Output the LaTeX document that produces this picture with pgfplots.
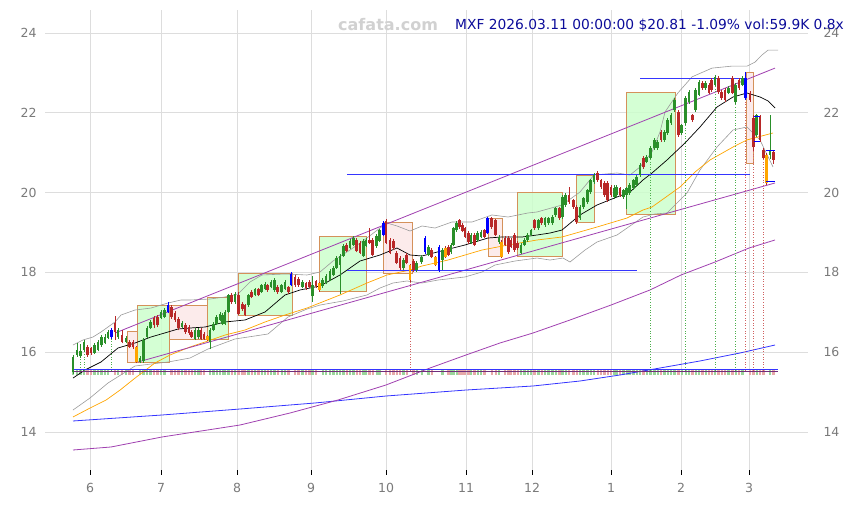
\documentclass[border=0pt]{standalone}
\usepackage{pgfplots}
\pgfplotsset{compat=1.18}
\usepackage{pgfplotstable}
\usepackage{fontspec}
\setmainfont{DejaVu Sans}
\definecolor{cgreen}{HTML}{2A8F2A}
\definecolor{cred}{HTML}{B82828}
\definecolor{cblue}{HTML}{0000FF}
\definecolor{corange}{HTML}{FFA500}
\definecolor{boxedge}{HTML}{D4915A}
\definecolor{boxgreen}{HTML}{CCFFCC}
\definecolor{boxpink}{HTML}{FCE8E8}
\definecolor{gridc}{HTML}{DDDDDD}
\definecolor{tickc}{HTML}{7A7A7A}
\definecolor{mapurple}{HTML}{A040B0}
\definecolor{mablue}{HTML}{3535FF}
\definecolor{titlec}{HTML}{0C0C9A}
\definecolor{bandc}{HTML}{9A9A9A}
\definecolor{volg}{HTML}{9AD49A}
\definecolor{volr}{HTML}{E6A8A8}
\definecolor{dotg}{HTML}{4CAF4C}
\definecolor{dotr}{HTML}{D06060}

\pgfplotstableread{
x o h l c
73 15.50 15.93 15.45 15.88
77 15.93 16.23 15.88 16.06
80.5 15.90 16.20 15.86 16.03
84 16.06 16.30 16.00 16.26
94.5 15.98 16.22 15.95 16.18
98 16.06 16.30 16.02 16.26
101.5 16.18 16.42 16.14 16.38
105 16.23 16.45 16.20 16.38
108 16.36 16.56 16.32 16.51
118 16.38 16.60 16.34 16.56
126 16.26 16.40 16.22 16.36
140 15.76 15.90 15.72 15.85
143.5 15.78 16.35 15.74 16.31
147 16.38 16.65 16.35 16.61
150.5 16.61 16.80 16.58 16.76
161 16.86 17.05 16.82 17.01
164.5 16.88 17.10 16.85 17.06
182 16.63 16.78 16.60 16.73
195 16.33 16.60 16.30 16.56
198.3 16.38 16.60 16.34 16.56
210 16.26 16.60 16.08 16.56
213.3 16.56 16.75 16.52 16.71
216.7 16.71 16.92 16.68 16.88
220 16.81 17.00 16.78 16.96
222.7 16.71 16.97 16.68 16.93
225 16.71 17.05 16.68 17.01
228.3 17.01 17.47 16.98 17.43
235 17.26 17.50 17.22 17.46
248.3 17.18 17.47 17.14 17.43
255 17.43 17.62 17.40 17.58
261.7 17.51 17.72 17.48 17.68
265 17.58 17.75 17.55 17.71
271 17.63 17.80 17.60 17.76
274.3 17.56 17.85 17.52 17.81
281.7 17.51 17.72 17.48 17.68
285 17.58 17.80 17.55 17.76
302.3 17.63 17.80 17.60 17.76
312.3 17.41 17.90 17.27 17.68
322.7 17.66 17.85 17.62 17.81
326 17.73 17.95 17.70 17.91
330 17.81 18.08 17.78 18.04
333.3 17.94 18.15 17.90 18.11
336.7 18.11 18.40 18.08 18.36
340 18.19 18.45 17.47 18.41
343.3 18.41 18.70 18.38 18.66
350 18.61 18.83 18.58 18.79
353.3 18.69 18.90 18.66 18.86
363.3 18.41 18.83 18.38 18.79
366 18.66 18.85 18.63 18.81
376.7 18.66 18.95 18.62 18.91
379.3 18.79 19.10 18.75 19.06
403.3 18.11 18.35 18.07 18.31
416.7 18.06 18.28 18.02 18.24
421.7 18.26 18.43 18.22 18.39
428.3 18.44 18.68 18.40 18.64
442.3 18.31 18.60 18.06 18.56
451 18.51 18.73 18.47 18.69
453.3 18.69 19.15 18.65 19.11
456.7 19.06 19.28 19.02 19.24
471 18.74 18.98 18.70 18.94
477.7 18.81 19.03 18.77 18.99
481 18.89 19.06 18.85 19.02
499 18.76 18.93 18.72 18.89
521 18.49 18.73 18.45 18.69
524.3 18.69 18.85 18.65 18.81
527.7 18.81 18.98 18.77 18.94
531 18.94 19.10 18.90 19.06
538.3 19.11 19.35 19.07 19.31
545 19.19 19.40 19.15 19.36
548.3 19.24 19.40 19.20 19.36
552.3 19.24 19.43 19.20 19.39
555.7 19.44 19.65 19.40 19.61
562.3 19.39 19.93 19.35 19.89
565.7 19.69 19.98 19.65 19.94
580 19.36 19.68 19.32 19.64
583.3 19.64 19.90 19.60 19.86
587.3 19.76 20.10 19.72 20.06
590.7 20.01 20.35 19.97 20.31
594 20.26 20.48 20.22 20.44
614.3 19.89 20.20 19.85 20.11
616.7 19.94 20.18 19.90 20.14
623.3 19.89 20.10 19.85 20.06
626.7 19.94 20.15 19.60 20.11
629.3 19.99 20.23 19.95 20.19
633.3 20.11 20.35 20.07 20.31
636.7 20.19 20.43 20.15 20.39
640 20.44 20.73 20.40 20.69
646.7 20.77 20.93 20.73 20.89
650.5 20.87 21.16 20.83 21.12
654.3 21.12 21.36 21.08 21.32
657.7 21.12 21.31 21.08 21.27
664.3 21.32 21.56 21.28 21.52
667.7 21.49 21.86 21.45 21.82
671 21.74 21.99 21.70 21.95
674.3 22.07 22.36 22.03 22.32
681.7 21.49 21.73 21.45 21.69
685.7 21.74 22.41 21.70 22.37
689 22.27 22.56 22.23 22.52
695.7 22.07 22.61 22.03 22.57
699 22.45 22.81 22.41 22.77
705.7 22.62 22.79 22.58 22.75
715 22.70 22.94 22.66 22.90
728.3 22.50 22.66 22.46 22.62
735.7 22.27 22.74 22.23 22.70
742.3 22.70 22.91 22.66 22.87
756.7 21.44 21.98 21.40 21.94
770 20.94 21.94 20.85 21.07
}\greentab

\pgfplotstableread{
x o h l c
87.5 16.13 16.18 15.88 15.93
91 16.10 16.14 15.94 15.98
115 16.73 16.90 16.30 16.51
122 16.43 16.55 16.22 16.26
129.5 16.26 16.30 16.10 16.13
133 16.25 16.30 16.08 16.12
154 16.86 16.90 16.60 16.68
157.5 16.88 16.92 16.62 16.68
171.5 17.13 17.18 16.84 16.88
175 16.98 17.02 16.76 16.81
178.5 16.83 16.87 16.55 16.61
185.5 16.68 16.72 16.46 16.51
189 16.63 16.67 16.44 16.48
191.7 16.51 16.55 16.35 16.38
201 16.56 16.60 16.30 16.33
204 16.46 16.50 16.30 16.33
231.7 17.43 17.48 17.22 17.26
238.3 17.43 17.50 16.92 16.96
242.3 17.21 17.25 17.04 17.08
245 17.18 17.22 16.90 16.93
251.7 17.51 17.55 17.35 17.38
258.3 17.58 17.62 17.40 17.43
267.7 17.68 17.72 17.52 17.56
277.7 17.63 17.68 17.47 17.51
288.3 17.63 17.67 17.47 17.51
295 17.89 17.93 17.64 17.68
298.3 17.84 17.88 17.64 17.68
306 17.73 17.77 17.57 17.61
309.3 17.76 17.80 17.60 17.63
316 17.78 17.82 17.62 17.66
346.7 18.69 18.73 18.50 18.54
356.7 18.81 18.86 18.50 18.54
360 18.74 18.78 18.45 18.49
369.3 18.81 19.11 18.70 18.74
372.7 18.81 18.86 18.40 18.44
386 19.29 19.33 18.70 18.74
390 18.81 18.85 18.45 18.49
393.3 18.79 18.83 18.57 18.61
396.7 18.49 18.53 18.20 18.24
400 18.36 18.40 18.07 18.11
406.7 18.44 18.48 18.20 18.24
413.3 18.29 18.33 18.02 18.06
431.7 18.56 18.60 18.35 18.39
448.3 18.64 18.68 18.40 18.44
459.3 19.31 19.35 19.10 19.14
462.3 19.19 19.23 19.00 19.04
465 19.11 19.15 18.85 18.89
468.3 18.99 19.03 18.72 18.76
474.3 18.94 18.98 18.65 18.69
484.3 19.06 19.10 18.85 18.89
491.7 19.36 19.40 19.10 19.14
495.7 19.31 19.35 18.90 18.94
505 18.86 18.90 18.65 18.69
508.3 18.86 18.90 18.47 18.51
511 18.81 18.85 18.60 18.64
514.3 18.94 18.98 18.52 18.56
517.7 18.74 18.78 18.57 18.61
534.3 19.31 19.35 19.07 19.11
541.7 19.36 19.40 19.20 19.24
559.3 19.61 19.65 19.32 19.36
569 19.94 20.15 19.72 19.76
573.3 19.81 19.85 19.60 19.64
576.7 19.64 19.68 19.22 19.26
597.7 20.49 20.53 20.27 20.31
601 20.31 20.35 20.10 20.14
604.3 20.24 20.28 19.90 19.94
607.7 20.24 20.28 19.77 19.81
611 20.14 20.18 19.90 19.94
620 20.11 20.15 19.90 19.94
643.3 20.87 20.91 20.60 20.64
661 21.52 21.56 21.28 21.32
678.3 22.02 22.06 21.40 21.44
692.3 21.94 21.98 21.78 21.82
702.3 22.75 22.79 22.58 22.62
709 22.70 22.74 22.46 22.50
711.7 22.82 22.86 22.53 22.57
718.3 22.87 22.91 22.48 22.52
721.7 22.52 22.56 22.33 22.37
725 22.57 22.61 22.28 22.32
732.3 22.87 22.91 22.46 22.50
739 22.82 22.86 22.58 22.62
750 22.50 22.55 22.28 22.32
753.3 21.87 21.95 21.04 21.14
760 21.90 21.94 21.28 21.32
763.3 21.07 21.11 20.83 20.87
773.3 21.02 21.06 20.72 20.82
}\redtab

\pgfplotstableread{
x o h l c
111.5 16.38 16.60 16.34 16.56
168 17.00 17.25 16.97 17.18
291 17.68 18.00 17.65 17.96
383.3 18.94 19.28 18.90 19.24
425 18.51 18.90 18.47 18.86
439 18.64 18.68 18.02 18.06
487.7 18.99 19.40 18.95 19.36
745.7 22.37 23.02 22.32 22.87
}\bluetab

\pgfplotstableread{
x o h l c
136.5 16.13 16.16 15.72 15.75
207.3 16.40 16.43 16.28 16.31
319.3 17.73 17.77 17.52 17.56
410 18.19 18.22 17.77 17.81
435.7 18.39 18.42 18.15 18.19
445.7 18.61 18.65 18.35 18.39
501.7 18.76 18.80 18.35 18.39
766.7 20.94 20.98 20.20 20.24
}\orangetab

\pgfplotsset{
  candlewick/.style={draw=none, mark=none, forget plot,
    error bars/.cd, y dir=plus, y explicit, error mark=none,
    error bar style={draw=#1, line width=0.8pt}},
  candlebody/.style={draw=none, mark=none, forget plot,
    error bars/.cd, y dir=plus, y explicit, error mark=none,
    error bar style={draw=#1, line width=2.9pt}},
  volbar/.style={draw=none, mark=none, forget plot,
    error bars/.cd, y dir=plus, y explicit, error mark=none,
    error bar style={draw=#1, line width=2.4pt}},
  baseaxis/.style={
    at={(45pt,35pt)}, anchor=south west,
    width=763pt, height=460pt, scale only axis,
    xmin=45, xmax=808, ymin=13.0476, ymax=24.5764,
    axis line style={draw=none},
    ytick={14,16,18,20,22,24},
    ytick style={draw=none},
    tick label style={font=\fontsize{12.5}{14}\selectfont, text=tickc},
    /pgf/number format/assume math mode=true,
  },
}

\begin{document}
\begin{tikzpicture}
\path[use as bounding box] (0pt,0pt) rectangle (853pt,505pt);
\begin{axis}[baseaxis,
  xtick={90,161,237,311,386,466,532,611,681,749},
  xticklabels={6,7,8,9,10,11,12,1,2,3},
  xtick pos=bottom, ytick pos=left,
  tick align=outside, major tick length=5pt,
  xtick style={draw=black, line width=0.7pt},
  xticklabel style={yshift=-5pt},
  grid=major, major grid style={gridc, line width=0.8pt},
  clip=false,
]
% boxes
\addplot[draw=boxedge, fill=boxpink, fill opacity=0.85, line width=1pt] coordinates {(127,15.73) (137,15.73) (137,16.51) (127,16.51)} -- cycle;
\addplot[draw=boxedge, fill=boxgreen, fill opacity=0.85, line width=1pt] coordinates {(137,15.73) (169,15.73) (169,17.16) (137,17.16)} -- cycle;
\addplot[draw=boxedge, fill=boxpink, fill opacity=0.85, line width=1pt] coordinates {(169,16.31) (207,16.31) (207,17.16) (169,17.16)} -- cycle;
\addplot[draw=boxedge, fill=boxgreen, fill opacity=0.85, line width=1pt] coordinates {(207,16.31) (228,16.31) (228,17.38) (207,17.38)} -- cycle;
\addplot[draw=boxedge, fill=boxgreen, fill opacity=0.85, line width=1pt] coordinates {(238,16.93) (292,16.93) (292,17.98) (238,17.98)} -- cycle;
\addplot[draw=boxedge, fill=boxgreen, fill opacity=0.85, line width=1pt] coordinates {(319,17.53) (366,17.53) (366,18.91) (319,18.91)} -- cycle;
\addplot[draw=boxedge, fill=boxpink, fill opacity=0.85, line width=1pt] coordinates {(383,17.96) (412,17.96) (412,19.24) (383,19.24)} -- cycle;
\addplot[draw=boxedge, fill=boxpink, fill opacity=0.85, line width=1pt] coordinates {(488,18.39) (502,18.39) (502,19.34) (488,19.34)} -- cycle;
\addplot[draw=boxedge, fill=boxgreen, fill opacity=0.85, line width=1pt] coordinates {(517,18.39) (562,18.39) (562,19.99) (517,19.99)} -- cycle;
\addplot[draw=boxedge, fill=boxgreen, fill opacity=0.85, line width=1pt] coordinates {(576,19.26) (594,19.26) (594,20.42) (576,20.42)} -- cycle;
\addplot[draw=boxedge, fill=boxgreen, fill opacity=0.85, line width=1pt] coordinates {(626,19.46) (675,19.46) (675,22.52) (626,22.52)} -- cycle;
\addplot[draw=boxedge, fill=boxpink, fill opacity=0.85, line width=1pt] coordinates {(746,20.72) (753,20.72) (753,23.02) (746,23.02)} -- cycle;

% volume bars
\addplot[volbar={volg}] table[x=x, y expr=15.44, y error expr=0.13] {\greentab};
\addplot[volbar={volr}] table[x=x, y expr=15.44, y error expr=0.13] {\redtab};

% long moving averages
\addplot[mablue, line width=0.8pt] coordinates {(73,14.276) (162,14.426) (240,14.576) (315,14.727) (386,14.902) (466,15.052) (533,15.153) (580,15.278) (620,15.429) (660,15.604) (700,15.78) (740,15.98) (775,16.18)};
\addplot[mapurple, line width=0.8pt] coordinates {(73,13.549) (111,13.624) (162,13.875) (240,14.175) (290,14.476) (338,14.802) (386,15.178) (430,15.604) (466,15.93) (500,16.231) (533,16.481) (570,16.807) (611,17.182) (650,17.559) (681,17.935) (715,18.26) (749,18.611) (775,18.812)};

% bollinger bands
\addplot[bandc, line width=0.6pt] coordinates {(73,16.18) (83,16.306) (93,16.381) (101,16.506) (115,16.757) (121,16.932) (135,17.057) (151,17.107) (168,17.233) (181,17.308) (190,17.308) (210,17.333) (225,17.384) (238,17.459) (250,17.759) (262,17.935) (285,17.96) (307,17.935) (320,18.01) (333,18.285) (350,18.561) (363,18.787) (380,19.112) (387,19.238) (397,19.163) (410,19.037) (422,19.163) (435,19.112) (452,19.263) (472,19.263) (492,19.439) (508,19.388) (528,19.489) (537,19.514) (562,19.689) (580,20.015) (594,20.441) (617,20.491) (630,20.441) (640,20.642) (652,21.018) (660,21.52) (665,22.02) (678,22.5) (692,22.9) (712,23.12) (732,23.17) (747,23.17) (755,23.27) (762,23.45) (768,23.57) (778,23.57)};
\addplot[bandc, line width=0.6pt] coordinates {(73,14.551) (90,14.852) (108,15.228) (135,15.654) (150,15.70) (168,15.754) (190,15.854) (208,16.08) (235,16.331) (268,16.456) (288,16.882) (307,17.082) (320,17.182) (343,17.283) (367,17.434) (380,17.609) (393,17.734) (407,17.784) (422,17.734) (438,17.809) (465,17.885) (482,18.01) (495,18.185) (515,18.285) (537,18.36) (550,18.31) (563,18.36) (570,18.26) (585,18.56) (597,18.762) (617,18.937) (630,19.163) (643,19.388) (655,19.464) (667,19.489) (687,19.99) (700,20.566) (717,21.143) (733,21.569) (747,21.644) (760,21.318) (773,20.642)};

% MA60 orange
\addplot[corange, line width=0.7pt] coordinates {(73,14.376) (90,14.60) (106,14.80) (120,15.05) (135,15.35) (155,15.73) (170,15.93) (190,16.13) (205,16.256) (225,16.43) (245,16.556) (265,16.757) (285,16.932) (307,17.107) (340,17.434) (367,17.734) (387,17.935) (410,18.06) (422,18.16) (448,18.31) (482,18.561) (508,18.687) (537,18.812) (562,18.887) (597,19.137) (627,19.363) (643,19.564) (652,19.639) (680,20.14) (695,20.516) (710,20.817) (735,21.17) (747,21.32) (773,21.494)};

% MA20 black
\addplot[black, line width=0.7pt] coordinates {(73,15.353) (85,15.554) (101,15.754) (118,16.105) (135,16.231) (151,16.381) (168,16.506) (178,16.581) (190,16.606) (205,16.631) (225,16.757) (245,16.807) (265,17.007) (285,17.434) (300,17.559) (320,17.659) (340,17.935) (360,18.285) (380,18.436) (397,18.611) (410,18.436) (422,18.411) (445,18.561) (465,18.687) (488,18.862) (502,18.887) (522,18.887) (537,18.937) (550,18.987) (562,19.062) (580,19.439) (597,19.689) (617,19.89) (630,20.015) (643,20.316) (652,20.491) (667,20.817) (685,21.244) (700,21.644) (717,22.145) (733,22.396) (747,22.496) (760,22.396) (768,22.296) (775,22.12)};

% trend lines
\addplot[mapurple, line width=0.8pt] coordinates {(115,16.48) (775,23.12)};
\addplot[mapurple, line width=0.8pt] coordinates {(138,15.754) (775,20.241)};

% horizontal levels
\addplot[mablue, line width=0.8pt] coordinates {(640,22.87) (747,22.87)};
\addplot[mablue, line width=0.8pt] coordinates {(347,20.45) (750,20.45)};
\addplot[mablue, line width=0.8pt] coordinates {(347,18.06) (637,18.06)};

% dotted signal lines
\addplot[dotg, dotted, line width=0.6pt] coordinates {(80.5,15.55) (80.5,15.86)};
\addplot[dotg, dotted, line width=0.6pt] coordinates {(84,15.55) (84,16.0)};
\addplot[dotg, dotted, line width=0.6pt] coordinates {(111.5,15.55) (111.5,16.34)};
\addplot[dotr, dotted, line width=0.6pt] coordinates {(410,15.55) (410,17.77)};
\addplot[dotg, dotted, line width=0.6pt] coordinates {(650.5,15.55) (650.5,20.83)};
\addplot[dotg, dotted, line width=0.6pt] coordinates {(685.7,15.55) (685.7,21.70)};
\addplot[dotg, dotted, line width=0.6pt] coordinates {(715,15.55) (715,22.66)};
\addplot[dotg, dotted, line width=0.6pt] coordinates {(735.7,15.55) (735.7,22.23)};
\addplot[dotr, dotted, line width=0.6pt] coordinates {(745.7,15.55) (745.7,22.32)};
\addplot[dotr, dotted, line width=0.6pt] coordinates {(753.3,15.55) (753.3,21.04)};
\addplot[dotr, dotted, line width=0.6pt] coordinates {(763.3,15.55) (763.3,20.83)};

% volume baseline
\addplot[mablue, line width=1.3pt] coordinates {(73,15.56) (778,15.56)};
\addplot[mapurple!70!black, line width=0.6pt] coordinates {(73,15.525) (778,15.525)};

% candles
\addplot[candlewick={cgreen}] table[x=x, y=l, y error expr=\thisrow{h}-\thisrow{l}] {\greentab};
\addplot[candlebody={cgreen}] table[x=x, y expr={min(\thisrow{o},\thisrow{c})}, y error expr={abs(\thisrow{c}-\thisrow{o})}] {\greentab};
\addplot[candlewick={cred}] table[x=x, y=l, y error expr=\thisrow{h}-\thisrow{l}] {\redtab};
\addplot[candlebody={cred}] table[x=x, y expr={min(\thisrow{o},\thisrow{c})}, y error expr={abs(\thisrow{c}-\thisrow{o})}] {\redtab};
\addplot[candlewick={cblue}] table[x=x, y=l, y error expr=\thisrow{h}-\thisrow{l}] {\bluetab};
\addplot[candlebody={cblue}] table[x=x, y expr={min(\thisrow{o},\thisrow{c})}, y error expr={abs(\thisrow{c}-\thisrow{o})}] {\bluetab};
\addplot[candlewick={cred}] table[x=x, y=l, y error expr=\thisrow{h}-\thisrow{l}] {\orangetab};
\addplot[candlebody={corange}] table[x=x, y expr={min(\thisrow{o},\thisrow{c})}, y error expr={abs(\thisrow{c}-\thisrow{o})}] {\orangetab};

% blue markers at the end
\addplot[cblue, line width=1pt] coordinates {(754,21.90) (760,21.90)};
\addplot[cblue, line width=1pt] coordinates {(754,21.27) (760,21.27)};
\addplot[cblue, line width=1pt] coordinates {(766,21.05) (775,21.05)};
\addplot[cblue, line width=1pt] coordinates {(766,20.27) (775,20.27)};
\end{axis}

\begin{axis}[baseaxis, xtick=\empty, ytick pos=right, yticklabel pos=right,
  yticklabel style={xshift=12pt}]
\end{axis}

\node[anchor=base west, text=titlec, font=\fontsize{13.8}{16}\selectfont, inner sep=0pt] at (455pt,475pt) {MXF 2026.03.11 00:00:00 \$20.81 -1.09\% vol:59.9K 0.8x};
\node[anchor=base west, text=black!18, font=\bfseries\fontsize{16}{18}\selectfont, inner sep=0pt] at (338pt,474pt) {cafata.com};
\end{tikzpicture}
\end{document}
